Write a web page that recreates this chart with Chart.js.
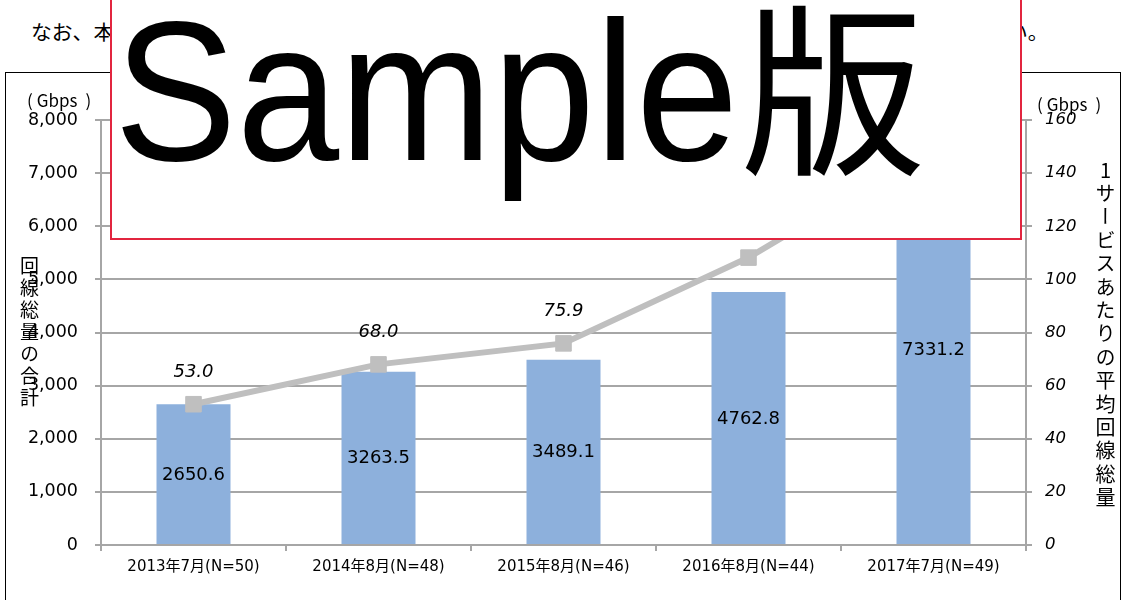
<!DOCTYPE html>
<html>
<head>
<meta charset="utf-8">
<script src="https://cdn.jsdelivr.net/npm/chart.js@4.4.1/dist/chart.umd.min.js"></script>
<style>
  html, body { margin: 0; padding: 0; background: #fff; }
  body { width: 1124px; height: 600px; position: relative; overflow: hidden; }
  .lead { position: absolute; left: 31px; top: 17px; font-family: "Noto Sans CJK JP", sans-serif; font-size: 20.8px; line-height: 28px; white-space: nowrap; color: #000; }
  .frame { position: absolute; left: 5px; top: 72px; width: 1114px; height: 600px; border: 1px solid #000; background: #fff; }
  #wrap { position: absolute; left: 0; top: 0; width: 1124px; height: 600px; }
  .unit { position: absolute; font-family: "Noto Sans CJK JP", sans-serif; font-size: 17px; line-height: 20px; color: #000; white-space: nowrap; }
  .unit .l { margin-right: 4px; }
  .unit .r { margin-left: 8px; }
  .vtitle { position: absolute; writing-mode: vertical-rl; text-orientation: upright; font-family: "Noto Sans CJK JP", sans-serif; color: #000; white-space: nowrap; }
  .sample { position: absolute; left: 110px; top: -10px; width: 908px; height: 246px; border: 2px solid #E2253F; background: #fff; overflow: hidden; }
  .sample span { position: absolute; font-family: "Liberation Sans", "Noto Sans CJK JP", sans-serif; white-space: nowrap; color: #000; }
  .sample .latin { left: 2px; top: 1px; font-size: 198px; line-height: 198px; transform: scaleX(0.93); transform-origin: left top; }
  .sample .kanji { left: 629px; top: 13px; font-size: 184px; line-height: 184px; }
</style>
</head>
<body>
<div class="lead">なお、本調査の回答事業者数は調査年ごとに異なるため、経年での単純な比較にあたっては、留意されたい。</div>
<div class="frame"></div>
<div id="wrap"><canvas id="combo-chart"></canvas></div>
<div class="unit" style="left:27px; top:90px;"><span class="l">(</span>Gbps<span class="r">)</span></div>
<div class="unit" style="left:1037px; top:94px;"><span class="l">(</span>Gbps<span class="r">)</span></div>
<div class="vtitle" style="left:16px; top:256px; font-size:19px; letter-spacing:3px;">回線総量の合計</div>
<div class="vtitle" style="left:1091px; top:160px; font-size:20px; letter-spacing:3.4px;">1サービスあたりの平均回線総量</div>
<div class="sample"><span class="latin">Sample</span><span class="kanji">版</span></div>

<script>
// survey rounds (x axis)
const categories = ['2013年7月(N=50)', '2014年8月(N=48)', '2015年8月(N=46)', '2016年8月(N=44)', '2017年7月(N=49)'];
// total line capacity (Gbps), bars, left axis
const totalCapacity = [2650.6, 3263.5, 3489.1, 4762.8, 7331.2];
// average capacity per service (Gbps), line, right axis
const avgPerService = [53.0, 68.0, 75.9, 108.2, 149.6];
// axis ranges
const leftMax = 8000, leftStep = 1000;
const rightMax = 160, rightStep = 20;

const numFont = '"DejaVu Sans", "Noto Sans CJK JP", sans-serif';
const gridGray = '#A6A6A6';

// draws the value labels: inside bars (centered) and above line points (italic)
const valueLabels = {
    id: 'valueLabels',
    afterDatasetsDraw(chart) {
        const ctx = chart.ctx;
        ctx.save();
        ctx.fillStyle = '#000';
        ctx.textAlign = 'center';
        ctx.textBaseline = 'middle';
        chart.data.datasets.forEach((ds, i) => {
            const meta = chart.getDatasetMeta(i);
            meta.data.forEach((el, idx) => {
                const v = ds.data[idx];
                if (ds.type === 'bar') {
                    ctx.font = '18px ' + numFont;
                    ctx.fillText(v.toFixed(1), el.x, (el.y + el.base) / 2 + 1);
                } else {
                    ctx.font = 'italic 18px ' + numFont;
                    ctx.fillText(v.toFixed(1), el.x, el.y - 32);
                }
            });
        });
        ctx.restore();
    }
};

new Chart(document.getElementById('combo-chart'), {
    data: {
        labels: categories,
        datasets: [
            {
                type: 'line',
                label: '1サービスあたりの平均回線総量',
                data: avgPerService,
                yAxisID: 'y1',
                borderColor: '#BFBFBF',
                backgroundColor: '#BFBFBF',
                borderWidth: 6,
                pointStyle: 'rect',
                pointRadius: 11,
                pointBorderWidth: 1,
                pointBorderColor: '#BFBFBF',
                pointBackgroundColor: '#BFBFBF',
                tension: 0,
                order: 0
            },
            {
                type: 'bar',
                label: '回線総量の合計',
                data: totalCapacity,
                yAxisID: 'y',
                backgroundColor: '#8DB0DC',
                categoryPercentage: 1,
                barPercentage: 0.4,
                order: 1
            }
        ]
    },
    options: {
        responsive: true,
        maintainAspectRatio: false,
        animation: false,
        locale: 'en-US',
        layout: { padding: { top: 120, left: 0, right: 0, bottom: 0 } },
        plugins: {
            legend: { display: false },
            tooltip: { enabled: false }
        },
        scales: {
            x: {
                offset: true,
                afterFit: s => { s.height = 55; },
                grid: { offset: true, drawOnChartArea: false, drawTicks: true, tickLength: 6, color: gridGray, lineWidth: 2 },
                border: { color: gridGray, width: 2 },
                ticks: { color: '#000', padding: 7, maxRotation: 0, font: { family: numFont, size: 15 } }
            },
            y: {
                position: 'left',
                min: 0,
                max: leftMax,
                afterFit: s => { s.width = 101; },
                grid: { color: gridGray, lineWidth: 2, tickLength: 6 },
                border: { color: gridGray, width: 2 },
                ticks: { stepSize: leftStep, color: '#000', padding: 17, font: { family: numFont, size: 17.5 } }
            },
            y1: {
                position: 'right',
                min: 0,
                max: rightMax,
                afterFit: s => { s.width = 98; },
                grid: { drawOnChartArea: false, color: gridGray, lineWidth: 2, tickLength: 6 },
                border: { color: gridGray, width: 2 },
                ticks: { stepSize: rightStep, color: '#000', padding: 13, font: { family: numFont, size: 16.5, style: 'italic' } }
            }
        }
    },
    plugins: [valueLabels]
});
</script>
</body>
</html>
